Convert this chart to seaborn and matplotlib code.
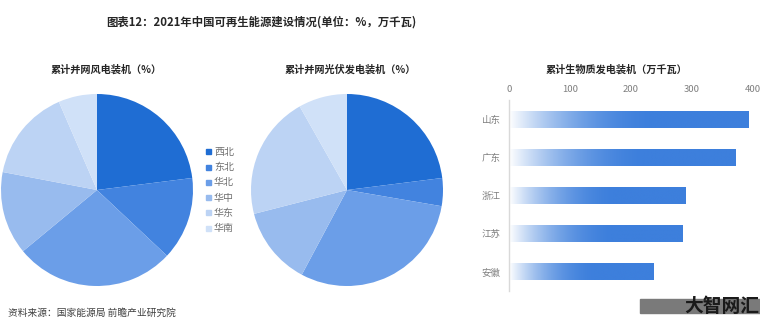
import matplotlib.pyplot as plt
import matplotlib.colors as mcolors
import numpy as np
import pandas as pd
import seaborn as sns

# data
regions = ['西北', '东北', '华北', '华中', '华东', '华南']
wind_share = [23.0, 14.0, 27.0, 14.0, 15.5, 6.5]
solar_share = [23.0, 4.7, 30.1, 13.2, 20.8, 8.2]
provinces = ['山东', '广东', '浙江', '江苏', '安徽']
biomass = [392, 372, 289, 285, 237]
bar_ticks = [0, 100, 200, 300, 400]

pie_colors = ['#1f6dd3', '#4283df', '#6b9ee8', '#98bbee', '#bcd3f4', '#d0e1f8']
bar_blue = '#3d7fdc'

sns.set_theme(style='white')
plt.rcParams['font.family'] = ['Noto Sans CJK SC', 'DejaVu Sans']

W, H = 760, 333
fig = plt.figure(figsize=(W / 100, H / 100), dpi=100)


def px_axes(x0, y0, x1, y1):
    # pixel box (top-left origin) -> figure axes
    return fig.add_axes([x0 / W, 1 - y1 / H, (x1 - x0) / W, (y1 - y0) / H])


fig.text(261 / W, 1 - 22 / H, '图表12：2021年中国可再生能源建设情况(单位：%，万千瓦)',
         ha='center', va='center', fontsize=8.2, fontweight='bold', color='#262626')

# wind pie
ax1 = px_axes(1, 94, 193, 286)
ax1.pie(wind_share, colors=pie_colors, startangle=90, counterclock=False,
        wedgeprops=dict(linewidth=0), radius=1)
ax1.set_aspect('equal')
ax1.set_xlim(-1, 1)
ax1.set_ylim(-1, 1)
fig.text(106 / W, 1 - 70 / H, '累计并网风电装机（%）', ha='center', va='center',
         fontsize=7.3, fontweight='bold', color='#262626')

# legend
for i, (r, c) in enumerate(zip(regions, pie_colors)):
    yy = 1 - (152 + i * 15.2) / H
    fig.patches.append(plt.Rectangle((206 / W, yy - 2.5 / H), 5 / W, 5 / H,
                                     transform=fig.transFigure, color=c))
    fig.text(214 / W, yy, r, ha='left', va='center', fontsize=7.2, color='#707070')

# solar pie
ax2 = px_axes(251, 94, 443, 286)
ax2.pie(solar_share, colors=pie_colors, startangle=90, counterclock=False,
        wedgeprops=dict(linewidth=0), radius=1)
ax2.set_aspect('equal')
ax2.set_xlim(-1, 1)
ax2.set_ylim(-1, 1)
fig.text(350 / W, 1 - 70 / H, '累计并网光伏发电装机（%）', ha='center', va='center',
         fontsize=7.3, fontweight='bold', color='#262626')

# biomass bars
ax3 = px_axes(509, 100, 753, 291)
df = pd.DataFrame({'省份': provinces, '装机': biomass})
sns.barplot(data=df, y='省份', x='装机', orient='h', ax=ax3, width=0.44,
            color=bar_blue)
cmap = mcolors.LinearSegmentedColormap.from_list('fade', ['#ffffff', bar_blue])
t = np.clip(np.linspace(0, 1, 512) / 0.62, 0, 1)
grad = (1 - (1 - t) ** 2).reshape(1, -1)  # smooth fade from white
for p in ax3.patches:
    x0, y0 = p.get_x(), p.get_y()
    w, h = p.get_width(), p.get_height()
    p.set_alpha(0)
    im = ax3.imshow(grad, cmap=cmap, vmin=0, vmax=1, aspect='auto',
                    extent=[x0, x0 + w, y0 + h, y0], zorder=2, interpolation='bilinear')
    im.set_clip_path(p)
ax3.set_xlim(0, 400)
ax3.set_ylim(4.5, -0.5)
ax3.set_xticks(bar_ticks)
ax3.xaxis.tick_top()
ax3.tick_params(axis='both', length=0, labelsize=6.8, labelcolor='#7f7f7f', pad=6)
ax3.tick_params(axis='x', pad=4)
ax3.set_xlabel('')
ax3.set_ylabel('')
for s in ['top', 'right', 'bottom']:
    ax3.spines[s].set_visible(False)
ax3.spines['left'].set_color('#d9d9d9')
ax3.spines['left'].set_linewidth(1)
fig.text(617 / W, 1 - 70 / H, '累计生物质发电装机（万千瓦）', ha='center', va='center',
         fontsize=7.3, fontweight='bold', color='#262626')

# footer
fig.text(8 / W, 1 - 313 / H, '资料来源：国家能源局 前瞻产业研究院', ha='left', va='center',
         fontsize=7, color='#404040')
fig.patches.append(plt.Rectangle((640 / W, 1 - 313 / H), 120 / W, 14 / H,
                                 transform=fig.transFigure, color='#7a7a7a'))
fig.text(759 / W, 1 - 306 / H, '大智网汇', ha='right', va='center', fontsize=13.5,
         fontweight='bold', color='#1a1a1a')

fig.savefig('out.png', dpi=100)
